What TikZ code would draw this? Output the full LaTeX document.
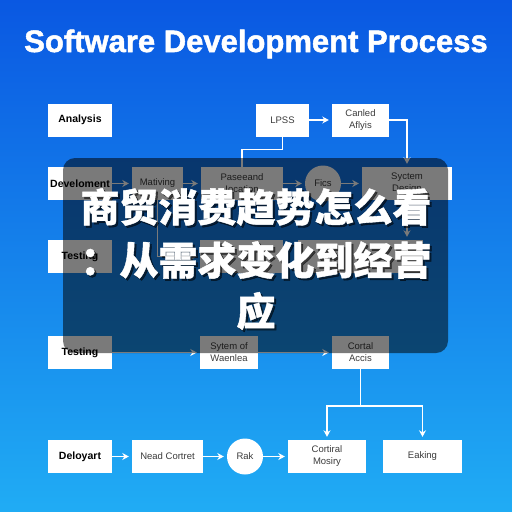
\documentclass[tikz,border=0pt]{standalone}
\usepackage{fontspec}
\setmainfont{Liberation Sans}
\newfontfamily\titlefont[BoldFeatures={FakeBold=1.6}]{Liberation Sans}
\newfontfamily\cjk[BoldFeatures={FakeBold=1}]{Noto Sans CJK SC}
\usetikzlibrary{arrows.meta}
\definecolor{bgtop}{RGB}{10,88,226}
\definecolor{bgbot}{RGB}{32,172,244}
\definecolor{boxtext}{RGB}{60,60,60}
\begin{document}
\begin{tikzpicture}[x=1pt,y=-1pt,
  box/.style={fill=white, inner sep=0pt, minimum height=33pt, align=center,
    font=\fontsize{9.5}{12}\selectfont, text=boxtext},
  lbl/.style={box, minimum width=64pt, font=\bfseries\fontsize{10.5}{12}\selectfont, text=black},
  circ/.style={circle, fill=white, inner sep=0pt, minimum size=36pt,
    font=\fontsize{9.5}{12}\selectfont, text=boxtext},
  arr/.style={draw=white, line width=1.4pt, shorten >=3pt, -{Stealth[length=6.5pt,width=7pt]}},
  ln/.style={draw=white, line width=1.4pt},
  cjkline/.style={inner sep=0pt, font=\cjk\bfseries\fontsize{39}{44}\selectfont},
]
\useasboundingbox (0,0) rectangle (512,512);
\shade[top color=bgtop, bottom color=bgbot] (0,0) rectangle (512,512);
\node[text=white, font=\titlefont\bfseries\fontsize{31}{36}\selectfont] (title) at (256,44) {Software Development Process};

% row 1
\node[lbl] (analysis) at (80,120) {Analysis};
\node[box, minimum width=53pt] (lpss) at (282.5,120) {LPSS};
\node[box, minimum width=57pt] (canled) at (360.5,120) {Canled\\Aflyis};
% row 2
\node[lbl] (dev) at (80,183.5) {Develoment};
\node[box, minimum width=51pt] (mativ) at (157.5,183.5) {Mativing};
\node[box, minimum width=82pt] (pase) at (242,183.5) {Paseeand\\Iocation};
\node[circ] (fics) at (323,183.5) {Fics};
\node[box, minimum width=90pt] (syctem) at (407,183.5) {Syctem\\Design};
% row 3
\node[lbl] (test1) at (80,256.5) {Testing};
\node[box, minimum width=83pt] (rowa) at (241.5,256.5) {};
\node[box, minimum width=125pt] (rowb) at (360,256.5) {};
% row 4
\node[lbl] (test2) at (80,352.5) {Testing};
\node[box, minimum width=58pt] (sytem) at (229,352.5) {Sytem of\\Waenlea};
\node[box, minimum width=57pt] (cortal) at (360.5,352.5) {Cortal\\Accis};
% row 5
\node[lbl] (deloy) at (80,456.5) {Deloyart};
\node[box, minimum width=71pt] (nead) at (167.5,456.5) {Nead Cortret};
\node[circ] (rak) at (245,456.5) {Rak};
\node[box, minimum width=78pt] (cortiral) at (327,456.5) {Cortiral\\Mosiry};
\node[box, minimum width=79pt] (eaking) at (422.5,456.5) {Eaking};

% connectors
\draw[arr] (lpss) -- (canled);
\draw[arr] (canled.east) -| (syctem.north);
\draw[ln] (lpss.south) -- ++(0,13) -| (pase.north);
\draw[arr] (dev) -- (mativ);
\draw[arr] (mativ) -- (pase);
\draw[arr] (pase) -- (fics);
\draw[arr] (fics) -- (syctem);
\draw[arr] (mativ.south) |- (rowa.west);
\draw[arr] (syctem.south) -- (syctem.south |- rowb.north);
\draw[arr] (test2) -- (sytem);
\draw[arr] (sytem) -- (cortal);
\coordinate (split) at (360.5,406);
\draw[ln] (cortal.south) -- (split);
\draw[arr] (split) -| (cortiral.north);
\draw[arr] (split) -| (eaking.north);
\draw[arr] (deloy) -- (nead);
\draw[arr] (nead) -- (rak);
\draw[arr] (rak) -- (cortiral);

% overlay
\fill[black, opacity=0.52, rounded corners=12pt] (63,158) rectangle (448,353);

% headline with shadow
\foreach \yy/\txt [count=\i] in {207/商贸消费趋势怎么看, 260/：从需求变化到经营, 311/应} {
  \node[cjkline, text=black, opacity=0.55] (sh\i) at (258,\yy+2) {\txt};
  \node[cjkline, text=white] (hl\i) at (256,\yy) {\txt};
}
\end{tikzpicture}
\end{document}
